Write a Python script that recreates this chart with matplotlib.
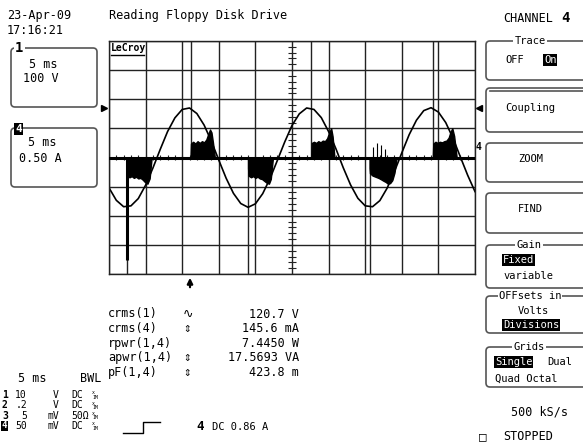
import numpy as np
import matplotlib.pyplot as plt
from matplotlib.patches import FancyBboxPatch

W, H = 583, 448
MONO = ['DejaVu Sans Mono', 'DejaVu Sans']
plt.rcParams['font.family'] = MONO

# >>> data -------------------------

# channel 1 (V), sampled every 1 ms across 10 div x 5 ms
t_ch1 = list(range(51))
v_ch1 = [-104, -147, -169, -166, -141, -95, -36, 28, 89, 136,
         165, 170, 151, 111, 55, -9, -71, -123, -158, -171,
         -159, -124, -72, -10, 53, 110, 150, 170, 165, 137,
         89, 30, -35, -94, -140, -166, -169, -148, -105, -48,
         16, 78, 128, 161, 171, 156, 120, 66, 2, -61, -117]

# channel 4 (A) bursts: time (ms) and envelope
pos1_t = [11.15, 11.2, 11.5, 11.8, 12.1, 12.4, 12.7, 13.0, 13.3, 13.55, 13.8, 14.0, 14.2, 14.46]
pos1_i = [0.05, 0.24, 0.27, 0.24, 0.28, 0.25, 0.28, 0.26, 0.31, 0.40, 0.48, 0.43, 0.26, 0.0]
pos2_t = [27.65, 27.7, 28.0, 28.3, 28.6, 28.9, 29.2, 29.5, 29.8, 30.05, 30.35, 30.55, 30.8]
pos2_i = [0.05, 0.25, 0.27, 0.25, 0.28, 0.26, 0.29, 0.28, 0.33, 0.42, 0.50, 0.36, 0.0]
pos3_t = [44.25, 44.3, 44.6, 44.9, 45.2, 45.5, 45.8, 46.1, 46.4, 46.65, 46.9, 47.15, 47.5]
pos3_i = [0.05, 0.24, 0.27, 0.25, 0.27, 0.26, 0.28, 0.29, 0.34, 0.44, 0.50, 0.37, 0.0]
neg1_t = [2.45, 2.5, 2.8, 3.1, 3.4, 3.7, 4.0, 4.3, 4.6, 4.9, 5.25, 5.55, 5.83]
neg1_i = [-0.22, -0.31, -0.34, -0.32, -0.35, -0.33, -0.36, -0.35, -0.38, -0.42, -0.45, -0.36, 0.0]
neg2_t = [19.0, 19.05, 19.4, 19.7, 20.0, 20.3, 20.6, 20.9, 21.2, 21.5, 21.85, 22.1, 22.4]
neg2_i = [-0.18, -0.31, -0.34, -0.32, -0.35, -0.33, -0.36, -0.37, -0.40, -0.43, -0.45, -0.37, 0.0]
neg3_t = [35.6, 35.65, 36.0, 36.4, 36.8, 37.1, 37.5, 37.8, 38.1, 38.4, 38.7, 39.0, 39.3]
neg3_i = [-0.18, -0.27, -0.31, -0.33, -0.35, -0.37, -0.40, -0.42, -0.45, -0.44, -0.39, -0.26, 0.0]
spike_t = [2.45]
spike_i = [-1.76]
blip_t = [36.1, 36.6, 37.2, 37.7]
blip_i = [0.18, 0.25, 0.22, 0.15]

# cycle markers (ms)
peak_marks = [11.15, 27.65, 44.25]
trough_marks = [2.45, 19.0, 35.6]

meas_names = ['crms(1)', 'crms(4)', 'rpwr(1,4)', 'apwr(1,4)', 'pF(1,4)']
meas_icons = ['∿', '⇕', '', '⇕', '⇕']
meas_vals = ['120.7 V', '145.6 mA', '7.4450 W', '17.5693 VA', '423.8 m']

ch_labels = ['1', '2', '3', '4']
ch_vals = ['10', '.2', '5', '50']
ch_units = ['V', 'V', 'mV', 'mV']
ch_coupling = ['DC', 'DC', '50Ω', 'DC']

# >>> figure -----

fig = plt.figure(figsize=(W / 100, H / 100), dpi=100)

ax = fig.add_axes([109 / W, 1 - 274 / H, 366 / W, 233 / H], zorder=1)
ax.set_xlim(0, 50)
ax.set_ylim(-400, 400)
ax.set_xticks(np.arange(0, 51, 5))
ax.set_yticks(np.arange(-400, 401, 100))
ax.tick_params(length=0, labelbottom=False, labelleft=False)
ax.grid(True, color='#222222', lw=1.0)
for s in ax.spines.values():
    s.set_color('#222222')
    s.set_linewidth(1.0)

# ticks on the centre axes
ax.vlines(np.arange(1, 50, 1), -10, 10, color='#222222', lw=0.8)
ax.hlines(np.arange(-380, 400, 20), 24.45, 25.55, color='#222222', lw=0.8)

ax.vlines(peak_marks, 0, 400, color='#222222', lw=1.0)
ax.vlines(trough_marks, -400, 0, color='#222222', lw=1.0)

ax.plot(t_ch1, v_ch1, color='black', lw=1.2)

ax4 = ax.twinx()
ax4.set_ylim(-2, 2)
ax4.axis('off')
ax4.plot([0, 50], [0, 0], color='black', lw=2.2)
for tt, ii in [(pos1_t, pos1_i), (pos2_t, pos2_i), (pos3_t, pos3_i),
               (neg1_t, neg1_i), (neg2_t, neg2_i), (neg3_t, neg3_i)]:
    ax4.fill_between(tt, 0, ii, color='black', lw=1.0)
ax4.vlines(spike_t, spike_i, 0, color='black', lw=2.2)
ax4.vlines(blip_t, 0, blip_i, color='black', lw=0.8)

# overlay in pixel coordinates
bg = fig.add_axes([0, 0, 1, 1], zorder=5)
bg.set_xlim(0, W)
bg.set_ylim(H, 0)
bg.axis('off')
bg.patch.set_alpha(0)


def txt(x, y, s, size=8.5, inv=False, ha='left', **kw):
    if inv:
        kw['color'] = 'white'
        kw['bbox'] = dict(boxstyle='square,pad=0.08', fc='black', ec='none')
    bg.text(x, y, s, fontsize=size, va='center', ha=ha, **kw)


def box(x, y, w, h):
    bg.add_patch(FancyBboxPatch((x, y), w, h, boxstyle='round,pad=0,rounding_size=4',
                                fc='none', ec='#555555', lw=1.2))


white = dict(boxstyle='square,pad=0.1', fc='white', ec='none')

txt(7, 15, '23-Apr-09')
txt(7, 30, '17:16:21')
txt(109, 15, 'Reading Floppy Disk Drive')
txt(503, 18, 'CHANNEL')
txt(561, 18, '4', size=10, weight='bold')

# channel boxes on the left
box(11, 48, 86, 59)
txt(15, 48, '1', size=10, weight='bold', bbox=white)
txt(29, 64, '5 ms')
txt(23, 79, '100 V')
box(11, 128, 86, 59)
txt(15, 129, '4', size=8, weight='bold', inv=True)
txt(28, 143, '5 ms')
txt(19, 158, '0.50 A')

# logo and markers round the grid
txt(111, 48, 'LeCroy', size=7, weight='bold')
bg.plot([111, 144], [55, 55], color='black', lw=1)
bg.plot(104, 108, marker='>', ms=4, color='black')
bg.plot(478.5, 108, marker='<', ms=4, color='black')
txt(476, 147, '4', size=7, weight='bold')
bg.annotate('', xy=(190, 275), xytext=(190, 290),
            arrowprops=dict(arrowstyle='-|>', color='black', lw=1.6, mutation_scale=8))

# measurement table
for k, (n, ic, v) in enumerate(zip(meas_names, meas_icons, meas_vals)):
    y = 314 + k * 14.6
    txt(108, y, n)
    txt(183, y, ic, size=9)
    txt(299, y, v, ha='right')

# channel summary
txt(18, 379, '5 ms')
txt(80, 379, 'BWL')
for k, (lab, val, un, cp) in enumerate(zip(ch_labels, ch_vals, ch_units, ch_coupling)):
    y = 395 + k * 10.3
    if lab == '4':
        txt(2, y, lab, size=6.5, weight='bold', inv=True)
    else:
        txt(2, y, lab, size=7, weight='bold')
    txt(27, y, val, size=7, ha='right')
    txt(59, y, un, size=7, ha='right')
    txt(71, y, cp, size=7)
    bg.text(92, y, 'x\n1M', fontsize=3.5, va='center', ha='left', linespacing=0.8)

bg.plot([123, 143, 143, 160], [433, 433, 422, 422], color='black', lw=1)
txt(196, 427, '4', size=9, weight='bold')
txt(212, 427, 'DC 0.86 A', size=7.5)

# menu on the right
for top, bot in [(41, 80), (88, 132), (143, 182), (193, 233), (245, 288), (296, 333), (347, 387)]:
    box(486, top, 130, bot - top)
bg.plot([490, 583], [91, 91], color='#555555', lw=1.2)

RS = 7.5
txt(530, 41, 'Trace', size=RS, ha='center', bbox=white)
txt(505, 60, 'OFF', size=RS)
txt(544, 60, 'On', size=RS, inv=True)
txt(505, 108, 'Coupling', size=RS)
txt(518, 159, 'ZOOM', size=RS)
txt(518, 209, 'FIND', size=RS)
txt(529, 245, 'Gain', size=RS, ha='center', bbox=white)
txt(503, 260, 'Fixed', size=RS, inv=True)
txt(503, 276, 'variable', size=RS)
txt(530, 296, 'OFFsets in', size=RS, ha='center', bbox=white)
txt(518, 311, 'Volts', size=RS)
txt(503, 325, 'Divisions', size=RS, inv=True)
txt(529, 347, 'Grids', size=RS, ha='center', bbox=white)
txt(495, 362, 'Single', size=RS, inv=True)
txt(547, 362, 'Dual', size=RS)
txt(495, 379, 'Quad Octal', size=RS)
txt(511, 412, '500 kS/s')
txt(479, 437, '□', size=9)
txt(503, 437, 'STOPPED')

fig.savefig('out.png', dpi=100)
